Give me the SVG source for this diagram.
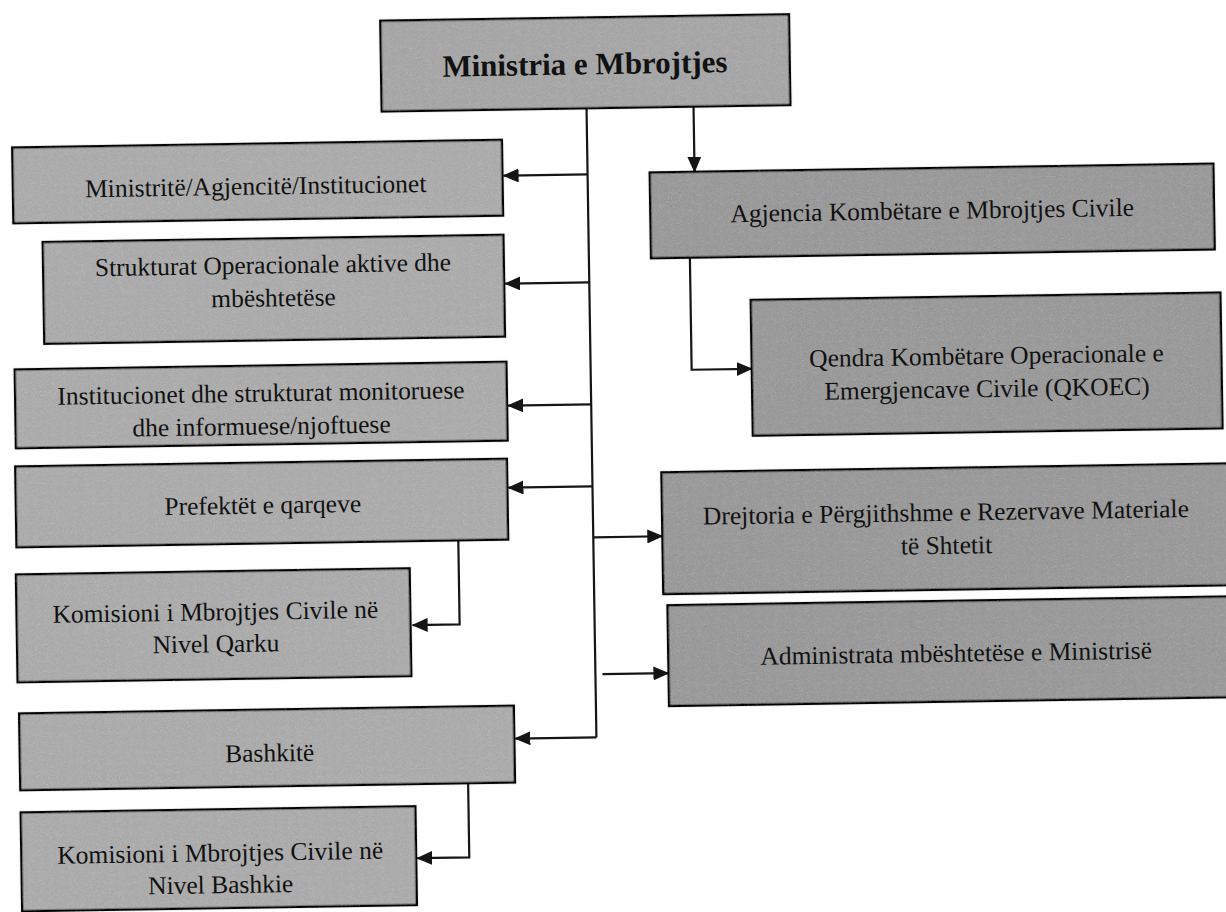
<svg xmlns="http://www.w3.org/2000/svg" width="1226" height="912" viewBox="0 0 1226 912">
<style>
.box{fill:#b9b9b9;stroke:#151515;stroke-width:2.5;filter:url(#grain)}
.dark{fill:#a9a9a9}
.top{fill:#b4b4b4}
.t{font-family:"Liberation Serif","Times New Roman",serif;font-size:25.5px;fill:#111;text-anchor:middle}
.tb{font-family:"Liberation Serif","Times New Roman",serif;font-size:31px;font-weight:bold;fill:#111;text-anchor:middle}
.c{fill:none;stroke:#151515;stroke-width:2.2}
.a{marker-end:url(#arr)}
</style>
<defs>
<filter id="grain" x="-2%" y="-2%" width="104%" height="104%">
<feTurbulence type="fractalNoise" baseFrequency="0.9" numOctaves="2" seed="4" result="n"/>
<feColorMatrix in="n" type="saturate" values="0" result="g"/>
<feComposite in="SourceGraphic" in2="g" operator="arithmetic" k1="0" k2="1" k3="0.35" k4="-0.17" result="m"/>
<feComposite in="m" in2="SourceAlpha" operator="in"/>
</filter>
<marker id="arr" markerUnits="userSpaceOnUse" markerWidth="16" markerHeight="14" refX="15" refY="7" orient="auto">
<path d="M0,0 L16,7 L0,14 z" fill="#151515"/>
</marker>
</defs>
<rect width="1226" height="912" fill="#ffffff"/>
<g transform="rotate(-0.9 613 456)">
<g id="connectors">
<path class="c" d="M592,108 V737"/>
<path class="c a" d="M699,108 V173"/>
<path class="c a" d="M592,174 H508"/>
<path class="c a" d="M592,282 H508"/>
<path class="c a" d="M592,404 H509"/>
<path class="c a" d="M592,486 H508"/>
<path class="c a" d="M457,538 V622 H410"/>
<path class="c a" d="M592,737 H511"/>
<path class="c a" d="M463,781 V855 H411"/>
<path class="c a" d="M693,259 V371 H753"/>
<path class="c a" d="M592,537 H661"/>
<path class="c a" d="M599,674 H665"/>
</g>
<g id="n-ministria">
<rect class="box top" x="387" y="17" width="409" height="91"/>
<text class="tb" x="591" y="74">Ministria e Mbrojtjes</text>
</g>
<g id="n-ministrite">
<rect class="box" x="17" y="138" width="490" height="76"/>
<text class="t" x="260" y="189">Ministritë/Agjencitë/Institucionet</text>
</g>
<g id="n-strukturat">
<rect class="box" x="46" y="233" width="461" height="102"/>
<text class="t" x="276" y="268">Strukturat Operacionale aktive dhe</text>
<text class="t" x="276" y="301">mbështetëse</text>
</g>
<g id="n-institucionet">
<rect class="box" x="16" y="360" width="492" height="79"/>
<text class="t" x="262" y="396">Institucionet dhe strukturat monitoruese</text>
<text class="t" x="262" y="429">dhe informuese/njoftuese</text>
</g>
<g id="n-prefektet">
<rect class="box" x="15" y="457" width="492" height="81"/>
<text class="t" x="262" y="508">Prefektët e qarqeve</text>
</g>
<g id="n-komisioni-qarku">
<rect class="box" x="14" y="565" width="394" height="108"/>
<text class="t" x="213" y="614">Komisioni i Mbrojtjes Civile në</text>
<text class="t" x="213" y="646">Nivel Qarku</text>
</g>
<g id="n-bashkite">
<rect class="box" x="15" y="704" width="495" height="77"/>
<text class="t" x="265" y="756">Bashkitë</text>
</g>
<g id="n-komisioni-bashkie">
<rect class="box" x="15" y="803" width="395" height="99"/>
<text class="t" x="214" y="855">Komisioni i Mbrojtjes Civile në</text>
<text class="t" x="214" y="887">Nivel Bashkie</text>
</g>
<g id="n-agjencia">
<rect class="box dark" x="654" y="173" width="564" height="86"/>
<text class="t" x="936" y="224">Agjencia Kombëtare e Mbrojtjes Civile</text>
</g>
<g id="n-qendra">
<rect class="box dark" x="753" y="302" width="470" height="136"/>
<text class="t" x="988" y="370">Qendra Kombëtare Operacionale e</text>
<text class="t" x="988" y="403">Emergjencave Civile (QKOEC)</text>
</g>
<g id="n-drejtoria">
<rect class="box dark" x="661" y="473" width="580" height="122"/>
<text class="t" x="945" y="526">Drejtoria e Përgjithshme e Rezervave Materiale</text>
<text class="t" x="945" y="559">të Shtetit</text>
</g>
<g id="n-administrata">
<rect class="box dark" x="665" y="606" width="580" height="101"/>
<text class="t" x="953" y="667">Administrata mbështetëse e Ministrisë</text>
</g>
</g>
</svg>
